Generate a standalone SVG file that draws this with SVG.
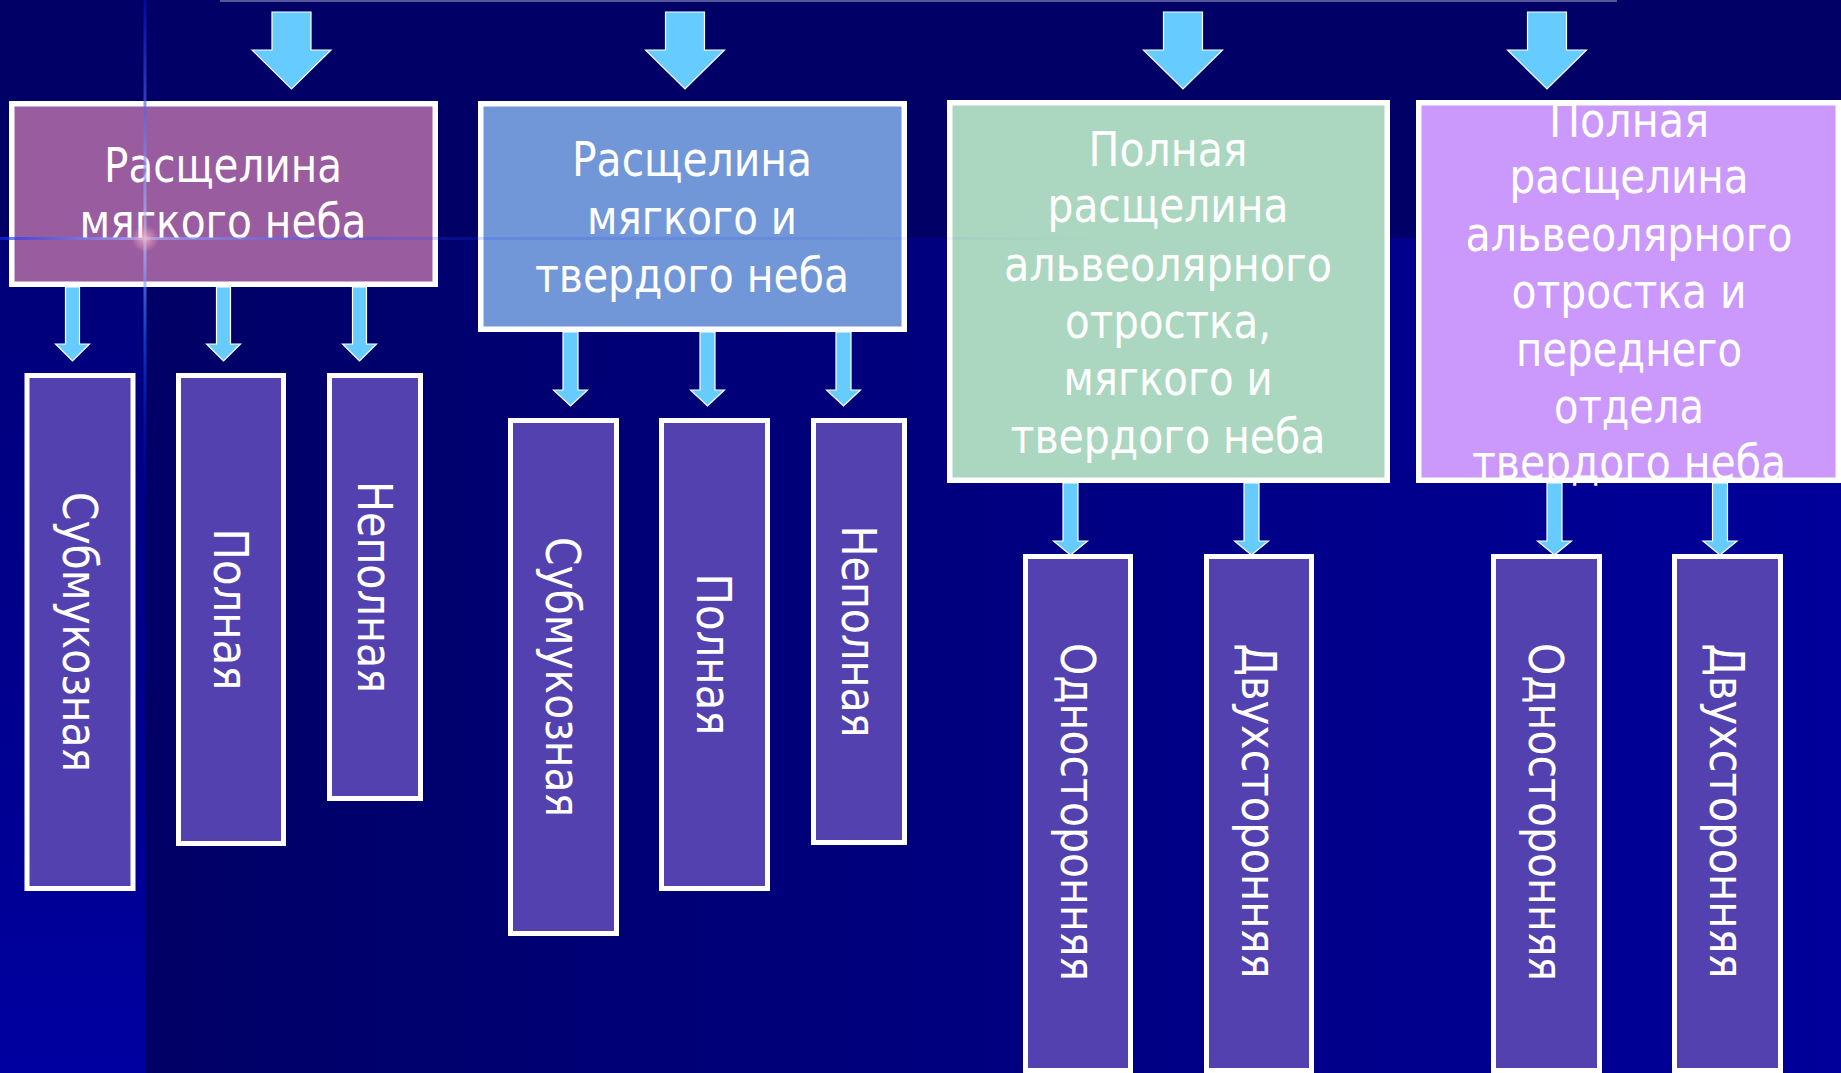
<svg xmlns="http://www.w3.org/2000/svg" width="1841" height="1073" viewBox="0 0 1841 1073">
<defs>
<linearGradient id="bgLow" x1="145" y1="0" x2="1841" y2="0" gradientUnits="userSpaceOnUse">
<stop offset="0" stop-color="#000066"/><stop offset="1" stop-color="#00009A"/>
</linearGradient>
<linearGradient id="bgLeft" x1="0" y1="238" x2="0" y2="1073" gradientUnits="userSpaceOnUse">
<stop offset="0" stop-color="#000078"/><stop offset="1" stop-color="#0000A0"/>
</linearGradient>
<linearGradient id="hLine" x1="0" y1="0" x2="1100" y2="0" gradientUnits="userSpaceOnUse">
<stop offset="0" stop-color="#1030F0" stop-opacity="0.8"/>
<stop offset="0.13" stop-color="#B0B8FF" stop-opacity="0.8"/>
<stop offset="0.3" stop-color="#3050FF" stop-opacity="0.45"/>
<stop offset="0.43" stop-color="#2040FF" stop-opacity="0.22"/>
<stop offset="1" stop-color="#0000CC" stop-opacity="0"/>
</linearGradient>
<linearGradient id="vLine" x1="0" y1="0" x2="0" y2="520" gradientUnits="userSpaceOnUse">
<stop offset="0" stop-color="#0010C8" stop-opacity="0.8"/>
<stop offset="0.46" stop-color="#C0C8FF" stop-opacity="0.8"/>
<stop offset="0.65" stop-color="#2060FF" stop-opacity="0.7"/>
<stop offset="1" stop-color="#0000CC" stop-opacity="0"/>
</linearGradient>
<radialGradient id="glow" cx="145" cy="238.5" r="14" gradientUnits="userSpaceOnUse">
<stop offset="0" stop-color="#FFD0D8" stop-opacity="0.9"/>
<stop offset="1" stop-color="#FFB0C0" stop-opacity="0"/>
</radialGradient>
</defs>
<style>
.box{stroke:#FFFFFF;stroke-width:5.5}
.kid{fill:#5341B0;stroke:#FFFFFF;stroke-width:5}
.t{font-family:"DejaVu Sans Condensed","DejaVu Sans",sans-serif;font-size:48px;fill:#FFFFFF;text-anchor:middle}
.arrow{fill:#66CCFF;stroke:#FFFFFF;stroke-width:1.2}
</style>
<g id="background">
<rect x="0" y="0" width="1841" height="1073" fill="#000066"/>
<rect x="145" y="238" width="1696" height="835" fill="url(#bgLow)"/>
<rect x="0" y="238" width="145" height="835" fill="url(#bgLeft)"/>
<rect x="220" y="0" width="1397" height="2" fill="#55559A"/>
</g>
<g id="node-b1">
<rect class="box" x="11.75" y="103.75" width="423.5" height="180.5" fill="#995C9F"/>
<text class="t" x="223" y="182" textLength="238" lengthAdjust="spacingAndGlyphs">Расщелина</text>
<text class="t" x="223" y="238" textLength="287" lengthAdjust="spacingAndGlyphs">мягкого неба</text>
</g>
<g id="node-b2">
<rect class="box" x="480.75" y="103.75" width="423.5" height="225.5" fill="#7197D8"/>
<text class="t" x="692" y="176" textLength="240" lengthAdjust="spacingAndGlyphs">Расщелина</text>
<text class="t" x="692" y="234" textLength="210" lengthAdjust="spacingAndGlyphs">мягкого и</text>
<text class="t" x="692" y="292" textLength="314" lengthAdjust="spacingAndGlyphs">твердого неба</text>
</g>
<g id="node-b3">
<rect class="box" x="949.75" y="102.75" width="437.5" height="377.5" fill="#ABD7C0"/>
<text class="t" x="1168" y="166" textLength="159" lengthAdjust="spacingAndGlyphs">Полная</text>
<text class="t" x="1168" y="222" textLength="241" lengthAdjust="spacingAndGlyphs">расщелина</text>
<text class="t" x="1168" y="281" textLength="328" lengthAdjust="spacingAndGlyphs">альвеолярного</text>
<text class="t" x="1168" y="338" textLength="206" lengthAdjust="spacingAndGlyphs">отростка,</text>
<text class="t" x="1168" y="395" textLength="209" lengthAdjust="spacingAndGlyphs">мягкого и</text>
<text class="t" x="1168" y="453" textLength="315" lengthAdjust="spacingAndGlyphs">твердого неба</text>
</g>
<g id="node-b4">
<rect class="box" x="1418.75" y="102.75" width="419.5" height="377.5" fill="#CB99FB"/>
<text class="t" x="1629" y="137" textLength="160" lengthAdjust="spacingAndGlyphs">Полная</text>
<text class="t" x="1629" y="193" textLength="239" lengthAdjust="spacingAndGlyphs">расщелина</text>
<text class="t" x="1629" y="251" textLength="327" lengthAdjust="spacingAndGlyphs">альвеолярного</text>
<text class="t" x="1629" y="308" textLength="235" lengthAdjust="spacingAndGlyphs">отростка и</text>
<text class="t" x="1629" y="366" textLength="226" lengthAdjust="spacingAndGlyphs">переднего</text>
<text class="t" x="1629" y="423" textLength="150" lengthAdjust="spacingAndGlyphs">отдела</text>
<text class="t" x="1629" y="479" textLength="314" lengthAdjust="spacingAndGlyphs">твердого неба</text>
</g>
<g id="node-b1-sub">
<rect class="kid" x="27" y="375.5" width="106" height="513"/>
<text class="t" transform="translate(62.5,632) rotate(90)" textLength="280" lengthAdjust="spacingAndGlyphs">Субмукозная</text>
</g>
<g id="node-b1-full">
<rect class="kid" x="178.5" y="375.5" width="105" height="468"/>
<text class="t" transform="translate(213.5,609.5) rotate(90)" textLength="162" lengthAdjust="spacingAndGlyphs">Полная</text>
</g>
<g id="node-b1-inc">
<rect class="kid" x="329.5" y="375.5" width="91" height="423"/>
<text class="t" transform="translate(357.5,587) rotate(90)" textLength="212" lengthAdjust="spacingAndGlyphs">Неполная</text>
</g>
<g id="node-b2-sub">
<rect class="kid" x="510.5" y="420.5" width="106" height="513"/>
<text class="t" transform="translate(546,677) rotate(90)" textLength="280" lengthAdjust="spacingAndGlyphs">Субмукозная</text>
</g>
<g id="node-b2-full">
<rect class="kid" x="661.5" y="420.5" width="106" height="468"/>
<text class="t" transform="translate(697,654.5) rotate(90)" textLength="162" lengthAdjust="spacingAndGlyphs">Полная</text>
</g>
<g id="node-b2-inc">
<rect class="kid" x="813.5" y="420.5" width="91" height="422"/>
<text class="t" transform="translate(841.5,631.5) rotate(90)" textLength="212" lengthAdjust="spacingAndGlyphs">Неполная</text>
</g>
<g id="node-b3-uni">
<rect class="kid" x="1025.5" y="556.5" width="105" height="514"/>
<text class="t" transform="translate(1060.5,812) rotate(90)" textLength="338" lengthAdjust="spacingAndGlyphs">Односторонняя</text>
</g>
<g id="node-b3-bi">
<rect class="kid" x="1206.5" y="556.5" width="105" height="514"/>
<text class="t" transform="translate(1241.5,811) rotate(90)" textLength="335" lengthAdjust="spacingAndGlyphs">Двухсторонняя</text>
</g>
<g id="node-b4-uni">
<rect class="kid" x="1493.5" y="556.5" width="106" height="514"/>
<text class="t" transform="translate(1529,812) rotate(90)" textLength="338" lengthAdjust="spacingAndGlyphs">Односторонняя</text>
</g>
<g id="node-b4-bi">
<rect class="kid" x="1674.5" y="556.5" width="106" height="514"/>
<text class="t" transform="translate(1710,811) rotate(90)" textLength="335" lengthAdjust="spacingAndGlyphs">Двухсторонняя</text>
</g>
<g id="connectors">
<polygon class="arrow" points="272,12 311,12 311,50 331,50 291.5,89 252,50 272,50"/>
<polygon class="arrow" points="665.5,12 704.5,12 704.5,50 724.5,50 685,89 645.5,50 665.5,50"/>
<polygon class="arrow" points="1163.5,12 1202.5,12 1202.5,50 1222.5,50 1183,89 1143.5,50 1163.5,50"/>
<polygon class="arrow" points="1527.5,12 1566.5,12 1566.5,50 1586.5,50 1547,89 1507.5,50 1527.5,50"/>
<polygon class="arrow" points="65.5,287 79.5,287 79.5,344 89.5,344 72.5,361 55.5,344 65.5,344"/>
<polygon class="arrow" points="216.5,287 230.5,287 230.5,344 240.5,344 223.5,361 206.5,344 216.5,344"/>
<polygon class="arrow" points="352.5,287 366.5,287 366.5,344 376.5,344 359.5,361 342.5,344 352.5,344"/>
<polygon class="arrow" points="563,332 578,332 578,390 587.5,390 570.5,406 553.5,390 563,390"/>
<polygon class="arrow" points="700,332 715,332 715,390 724.5,390 707.5,406 690.5,390 700,390"/>
<polygon class="arrow" points="836,332 851,332 851,390 860.5,390 843.5,406 826.5,390 836,390"/>
<polygon class="arrow" points="1063,483 1078,483 1078,541 1087.5,541 1070.5,555 1053.5,541 1063,541"/>
<polygon class="arrow" points="1244,483 1259,483 1259,541 1268.5,541 1251.5,555 1234.5,541 1244,541"/>
<polygon class="arrow" points="1547,483 1562,483 1562,541 1571.5,541 1554.5,555 1537.5,541 1547,541"/>
<polygon class="arrow" points="1712.5,483 1727.5,483 1727.5,541 1737,541 1720,555 1703,541 1712.5,541"/>
</g>
<g id="glare" opacity="0.8">
<rect x="0" y="237" width="1100" height="3" fill="url(#hLine)"/>
<rect x="143.5" y="0" width="3" height="520" fill="url(#vLine)"/>
<circle cx="145" cy="238.5" r="14" fill="url(#glow)"/>
</g>
</svg>
